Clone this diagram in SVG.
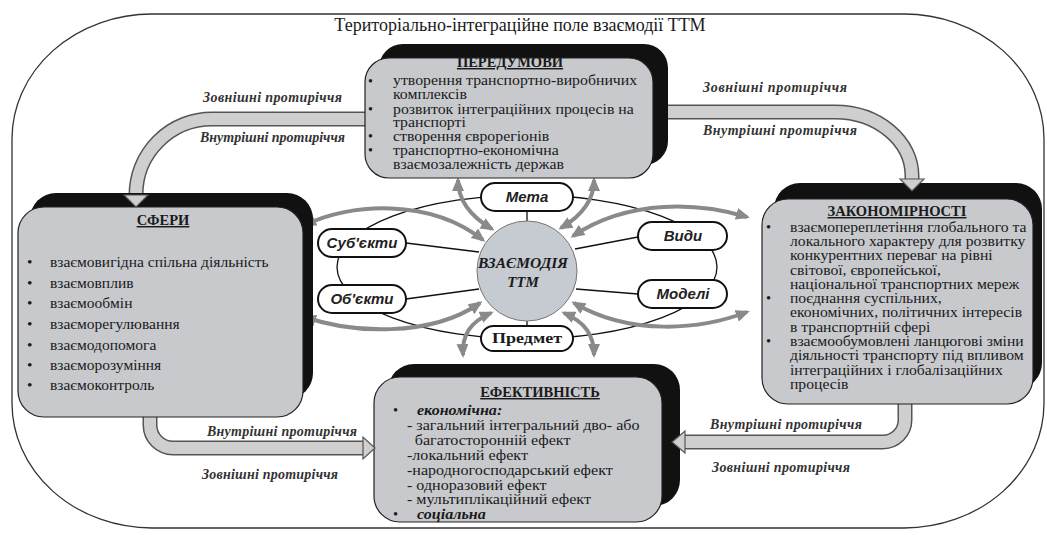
<svg xmlns="http://www.w3.org/2000/svg" width="1047" height="535" viewBox="0 0 1047 535">
<style>
.frame{fill:none;stroke:#333;stroke-width:1.3}
.shadow{fill:#111}
.box{fill:#c7c9cd;stroke:#222;stroke-width:1.2}
.serif{font-family:"Liberation Serif","Times New Roman",serif;fill:#1a1a1a}
.hd{font-weight:bold;text-decoration:underline;text-anchor:middle;font-size:14.5px}
.li{font-size:14.5px}
.lab{font-family:"Liberation Serif",serif;font-style:italic;font-weight:bold;font-size:14px;fill:#333}
.pill{fill:#fff;stroke:#111;stroke-width:2}
.nt{font-family:"Liberation Sans",Arial,sans-serif;font-style:italic;font-weight:bold;font-size:15px;text-anchor:middle;fill:#222}
.thin{stroke:#111;stroke-width:1.3;fill:none}
.garr{stroke:#8a8a8a;stroke-width:4;fill:none;marker-start:url(#ah);marker-end:url(#ah)}
.bandO{fill:none;stroke:#555;stroke-width:15}
.bandI{fill:none;stroke:#cfcfcf;stroke-width:12}
.head{fill:#cfcfcf;stroke:#555;stroke-width:1.2}
</style>
<defs>
<marker id="ah" viewBox="0 0 14 12" markerWidth="14" markerHeight="12" refX="11" refY="6" markerUnits="userSpaceOnUse" orient="auto-start-reverse">
<path d="M0,0 L14,6 L0,12 z" fill="#8a8a8a"/>
</marker>
</defs>
<rect width="1047" height="535" fill="#fff"/>
<rect class="frame" x="12" y="14" width="1032" height="514" rx="140" ry="125"/>
<text class="serif" x="520" y="31" font-size="18" text-anchor="middle">Територіально-інтеграційне поле взаємодії ТТМ</text>

<g id="connectors">
<g id="bands">
<path class="bandO" d="M368,119 L212,119 A76 76 0 0 0 136,195 L136,197"/>
<path class="bandI" d="M368,119 L212,119 A76 76 0 0 0 136,195 L136,197"/>
<path class="bandO" d="M650,112 L835,112 A77 64 0 0 1 912,176 L912,180"/>
<path class="bandI" d="M650,112 L835,112 A77 64 0 0 1 912,176 L912,180"/>
<path class="bandO" d="M150,412 L150,425 A23 23 0 0 0 173,448 L364,448"/>
<path class="bandI" d="M150,412 L150,425 A23 23 0 0 0 173,448 L364,448"/>
<path class="bandO" d="M905,398 L905,420 A22 22 0 0 1 883,442 L684,442"/>
<path class="bandI" d="M905,398 L905,420 A22 22 0 0 1 883,442 L684,442"/>
</g>
<ellipse class="thin" cx="527" cy="267" rx="190" ry="72" stroke-width="2"/>
<path class="thin" d="M527,210 L527,222 M406,243 L479,252 M406,299 L479,289 M638,237 L575,249 M638,294 L576,289 M527,320 L527,327"/>
<path class="garr" d="M492,229 C470,216 458,200 458,180"/>
<path class="garr" d="M561,228 C583,215 594,200 594,180"/>
<path class="garr" d="M483,240 C430,198 350,203 305,225"/>
<path class="garr" d="M480,303 C430,338 350,333 305,317"/>
<path class="garr" d="M573,236 C630,198 700,203 747,217"/>
<path class="garr" d="M574,303 C630,336 700,330 747,312"/>
<path class="garr" d="M491,313 C470,322 462,335 463,355"/>
<path class="garr" d="M564,313 C585,322 594,335 594,355"/>
</g>

<g id="peredumovy">
<rect class="shadow" x="379" y="44" width="289" height="121" rx="24"/>
<rect class="box" x="365" y="58" width="288" height="120" rx="24"/>
<text class="serif hd" x="510" y="67">ПЕРЕДУМОВИ</text>
<g class="serif" font-size="14">
<text x="368" y="85.5">•</text><text x="368" y="114">•</text><text x="368" y="141">•</text><text x="368" y="155">•</text>
</g>
<g class="serif" font-size="14" transform="translate(393,0) scale(1.13,1) translate(-393,0)">
<text x="393" y="85.5">утворення транспортно-виробничих</text>
<text x="393" y="99">комплексів</text>
<text x="393" y="114">розвиток інтеграційних процесів на</text>
<text x="393" y="127.5">транспорті</text>
<text x="393" y="141">створення єврорегіонів</text>
<text x="393" y="155">транспортно-економічна</text>
<text x="393" y="169">взаємозалежність держав</text>
</g>
</g>

<g id="sfery">
<rect class="shadow" x="30" y="193" width="283" height="206" rx="26"/>
<rect class="box" x="18" y="207" width="285" height="210" rx="26"/>
<text class="serif hd" x="163" y="225">СФЕРИ</text>
<g class="serif" font-size="15.5">
<text x="27" y="267">•</text><text x="50" y="267">взаємовигідна спільна діяльність</text>
<text x="27" y="288">•</text><text x="50" y="288">взаємовплив</text>
<text x="27" y="308">•</text><text x="50" y="308">взаємообмін</text>
<text x="27" y="329">•</text><text x="50" y="329">взаєморегулювання</text>
<text x="27" y="350">•</text><text x="50" y="350">взаємодопомога</text>
<text x="27" y="370">•</text><text x="50" y="370">взаєморозуміння</text>
<text x="27" y="390">•</text><text x="50" y="390">взаємоконтроль</text>
</g>
</g>

<g id="zakonomirnosti">
<rect class="shadow" x="774" y="183" width="268" height="206" rx="26"/>
<rect class="box" x="762" y="199" width="271" height="205" rx="26"/>
<text class="serif hd" x="897" y="216">ЗАКОНОМІРНОСТІ</text>
<g class="serif li">
<text x="766" y="232">•</text><text x="766" y="303">•</text><text x="766" y="346">•</text>
</g>
<g class="serif li" transform="translate(790,0) scale(1.08,1) translate(-790,0)">
<text x="790" y="232">взаємопереплетіння глобального та</text>
<text x="790" y="246">локального характеру для розвитку</text>
<text x="790" y="260">конкурентних переваг на рівні</text>
<text x="790" y="275">світової, європейської,</text>
<text x="790" y="289">національної транспортних мереж</text>
<text x="790" y="303">поєднання суспільних,</text>
<text x="790" y="317">економічних, політичних інтересів</text>
<text x="790" y="332">в транспортній сфері</text>
<text x="790" y="346">взаємообумовлені ланцюгові зміни</text>
<text x="790" y="360">діяльності транспорту під впливом</text>
<text x="790" y="375">інтеграційних і глобалізаційних</text>
<text x="790" y="389">процесів</text>
</g>
</g>

<g id="efektyvnist">
<rect class="shadow" x="388" y="364" width="292" height="142" rx="26"/>
<rect class="box" x="374" y="377" width="288" height="145" rx="26"/>
<text class="serif hd" x="540" y="397">ЕФЕКТИВНІСТЬ</text>
<g class="serif li">
<text x="393" y="415">•</text><text x="393" y="519">•</text>
</g>
<g class="serif li" transform="translate(407,0) scale(1.11,1) translate(-407,0)">
<text x="416" y="415" font-style="italic" font-weight="bold">економічна:</text>
<text x="407" y="430">- загальний інтегральний дво- або</text>
<text x="414" y="445">багатосторонній ефект</text>
<text x="407" y="460">-локальний ефект</text>
<text x="407" y="475">-народногосподарський ефект</text>
<text x="407" y="490">- одноразовий ефект</text>
<text x="407" y="504.5">- мультиплікаційний ефект</text>
<text x="416" y="519" font-style="italic" font-weight="bold">соціальна</text>
</g>
</g>

<g id="heads">
<polygon class="head" points="124,195 148,195 136,207"/>
<polygon class="head" points="900,179 924,179 912,191"/>
<polygon class="head" points="363,437 363,459 375,448"/>
<polygon class="head" points="685,431 685,453 672,442"/>
</g>

<g id="labels">
<text class="lab" x="203" y="102" textLength="139">Зовнішні протиріччя</text>
<text class="lab" x="200" y="142" textLength="145">Внутрішні протиріччя</text>
<text class="lab" x="703" y="92" textLength="144">Зовнішні протиріччя</text>
<text class="lab" x="703" y="135" textLength="154">Внутрішні протиріччя</text>
<text class="lab" x="207" y="436" textLength="150">Внутрішні протиріччя</text>
<text class="lab" x="202" y="479" textLength="136">Зовнішні протиріччя</text>
<text class="lab" x="710" y="429" textLength="152">Внутрішні протиріччя</text>
<text class="lab" x="712" y="472" textLength="138">Зовнішні протиріччя</text>
</g>

<g id="center">
<circle cx="527" cy="271" r="50" fill="#c6cad1" stroke="#777" stroke-width="1"/>
<text class="serif" x="523" y="268" font-size="15.5" font-weight="bold" font-style="italic" text-anchor="middle">ВЗАЄМОДІЯ</text>
<text class="serif" x="523" y="287" font-size="15" font-weight="bold" font-style="italic" text-anchor="middle">ТТМ</text>
</g>
<g id="meta"><rect class="pill" x="481" y="183" width="92" height="28" rx="14"/><text class="nt" x="527" y="202">Мета</text></g>
<g id="subiekty"><rect class="pill" x="318" y="229" width="88" height="28" rx="14"/><text class="nt" x="362" y="248">Суб'єкти</text></g>
<g id="obiekty"><rect class="pill" x="318" y="285" width="88" height="28" rx="14"/><text class="nt" x="362" y="304">Об'єкти</text></g>
<g id="vydy"><rect class="pill" x="638" y="222" width="89" height="28" rx="14"/><text class="nt" x="683" y="241">Види</text></g>
<g id="modeli"><rect class="pill" x="638" y="280" width="89" height="28" rx="14"/><text class="nt" x="683" y="299">Моделі</text></g>
<g id="predmet"><rect class="pill" x="481" y="326" width="92" height="25" rx="12.5"/><text class="serif" x="527" y="343" font-size="15" font-weight="bold" text-anchor="middle" textLength="70" lengthAdjust="spacingAndGlyphs">Предмет</text></g>
</svg>
